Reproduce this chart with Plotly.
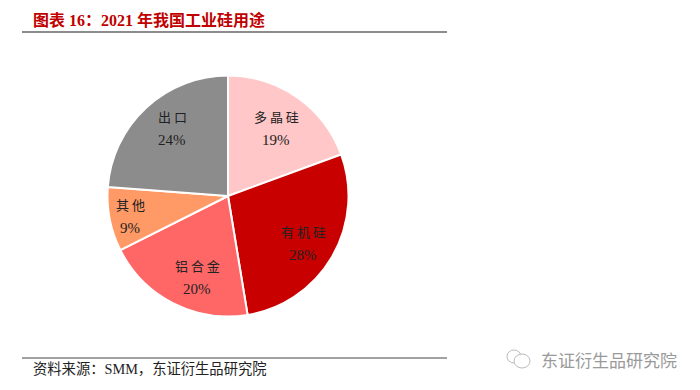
import plotly.graph_objects as go

categories = ["多晶硅", "有机硅", "铝合金", "其他", "出口"]
values = [19.4, 28.0, 20.2, 8.6, 23.8]
colors = ["#FFC7C7", "#C80000", "#FF6666", "#FF9966", "#8C8C8C"]
label_px = [(276, 116), (303, 231), (197, 265), (130, 204), (172, 116)]
title = "图表 16：2021 年我国工业硅用途"
source = "资料来源：SMM，东证衍生品研究院"
watermark = "东证衍生品研究院"

W, H = 700, 390
CJK = "Noto Sans CJK SC"
SERIF = "Liberation Serif, Noto Sans CJK SC"

fig = go.Figure(go.Pie(
    labels=categories, values=values, sort=False, direction="clockwise", rotation=0,
    marker=dict(colors=colors, line=dict(color="white", width=2)),
    textinfo="none", showlegend=False, hoverinfo="label+percent",
    domain=dict(x=[107.5 / W, 348.5 / W], y=[1 - 316.5 / H, 1 - 75.5 / H]),
))

ann = []
def px_text(x, y, text, size, color, anchor="center", font=SERIF):
    ann.append(dict(x=x / W, y=1 - y / H, xref="paper", yref="paper", text=text, showarrow=False,
                    xanchor=anchor, yanchor="middle", font=dict(size=size, color=color, family=font)))

for (x, y), c, v in zip(label_px, categories, values):
    px_text(x, y, " ".join(c), 13, "#222222", font=CJK)
    px_text(x, y + 24, f"{round(v)}%", 15, "#222222")

px_text(31, 20, f"<b>{title}</b>", 16, "#C00000", "left")
px_text(31, 369, source, 14.3, "#222222", "left")
px_text(539, 359, watermark, 17, "#9A9A9A", "left", CJK)

def line(x0, y0, x1, y1, color, width):
    return dict(type="line", xref="paper", yref="paper", x0=x0 / W, x1=x1 / W,
                y0=1 - y0 / H, y1=1 - y1 / H, line=dict(color=color, width=width))

def circle(x0, y0, x1, y1):
    return dict(type="circle", xref="paper", yref="paper", x0=x0 / W, x1=x1 / W,
                y0=1 - y0 / H, y1=1 - y1 / H, line=dict(color="#BBBBBB", width=1),
                fillcolor="white")

shapes = [
    line(22, 32, 447, 32, "#666666", 1.5),
    line(22, 358, 447, 358, "#444444", 1.2),
    circle(507, 350, 521, 363),
    circle(514, 354, 530, 368),
]

fig.update_layout(width=W, height=H, margin=dict(l=0, r=0, t=0, b=0),
                  paper_bgcolor="white", plot_bgcolor="white",
                  annotations=ann, shapes=shapes, showlegend=False)
fig.write_html("out.html", post_script="document.body.style.margin='0';",
               config={"displayModeBar": False})
